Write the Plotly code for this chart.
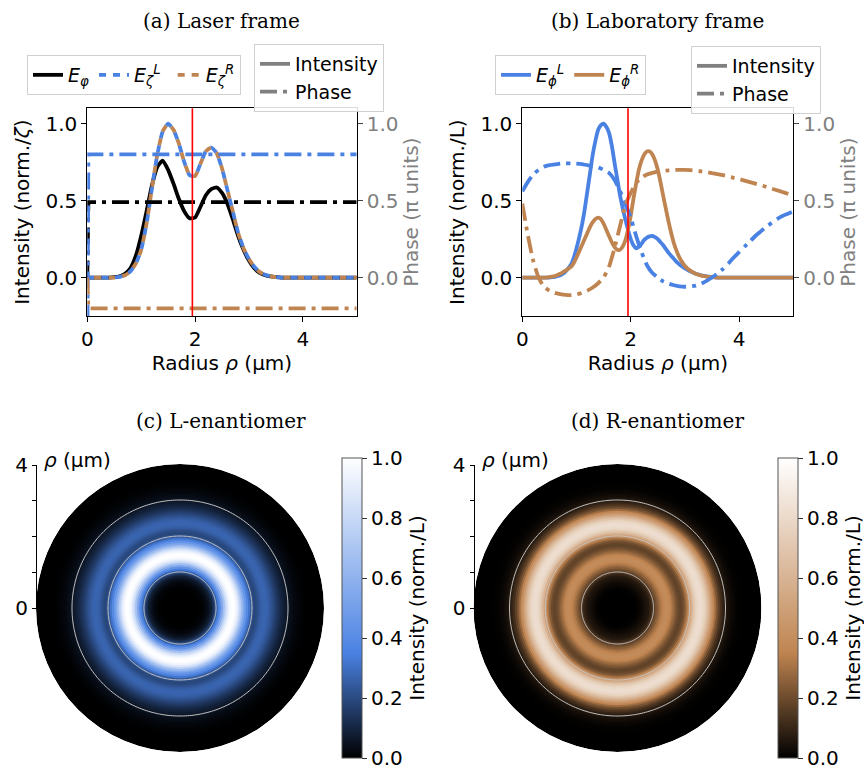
import numpy as np
import plotly.graph_objects as go

# ---------------- data ----------------
rho = [0.0, 0.1, 0.2, 0.3, 0.4, 0.5, 0.6, 0.7, 0.8, 0.9,
       1.0, 1.1, 1.2, 1.3, 1.4, 1.5, 1.6, 1.7, 1.8, 1.9,
       2.0, 2.1, 2.2, 2.3, 2.4, 2.5, 2.6, 2.7, 2.8, 2.9,
       3.0, 3.1, 3.2, 3.3, 3.4, 3.5, 3.6, 3.7, 3.8, 3.9,
       4.0, 4.1, 4.2, 4.3, 4.4, 4.5, 4.6, 4.7, 4.8, 4.9, 5.0]

rho_b = [0.00, 0.05, 0.10, 0.15, 0.20, 0.25, 0.30, 0.35, 0.40, 0.45,
         0.50, 0.55, 0.60, 0.65, 0.70, 0.75, 0.80, 0.85, 0.90, 0.95,
         1.00, 1.05, 1.10, 1.15, 1.20, 1.25, 1.30, 1.35, 1.40, 1.45,
         1.50, 1.55, 1.60, 1.65, 1.70, 1.75, 1.80, 1.85, 1.90, 1.95,
         2.00, 2.05, 2.10, 2.15, 2.20, 2.25, 2.30, 2.35, 2.40, 2.45,
         2.50, 2.55, 2.60, 2.65, 2.70, 2.75, 2.80, 2.85, 2.90, 2.95,
         3.00, 3.05, 3.10, 3.15, 3.20, 3.25, 3.30, 3.35, 3.40, 3.45,
         3.50, 3.55, 3.60, 3.65, 3.70, 3.75, 3.80, 3.85, 3.90, 3.95,
         4.00, 4.05, 4.10, 4.15, 4.20, 4.25, 4.30, 4.35, 4.40, 4.45,
         4.50, 4.55, 4.60, 4.65, 4.70, 4.75, 4.80, 4.85, 4.90, 4.95, 5.00]

# (a) laser frame intensities
I_phi_a = [0, 0, 0, 0, 0, 0.002, 0.008, 0.025, 0.06, 0.14,
           0.27, 0.43, 0.60, 0.72, 0.76, 0.70, 0.61, 0.51, 0.43, 0.385,
           0.39, 0.46, 0.535, 0.575, 0.585, 0.55, 0.48, 0.38, 0.27, 0.18,
           0.11, 0.06, 0.03, 0.015, 0.007, 0.003, 0, 0, 0, 0,
           0, 0, 0, 0, 0, 0, 0, 0, 0, 0, 0]
I_zeta_a = [0, 0, 0, 0, 0, 0, 0.005, 0.015, 0.04, 0.09,
            0.18, 0.35, 0.58, 0.80, 0.95, 1.00, 0.96, 0.87, 0.75, 0.665,
            0.66, 0.74, 0.82, 0.845, 0.81, 0.71, 0.57, 0.43, 0.29, 0.19,
            0.12, 0.07, 0.035, 0.018, 0.008, 0.003, 0, 0, 0, 0,
            0, 0, 0, 0, 0, 0, 0, 0, 0, 0, 0]
# (a) laser frame phases (constant after the origin)
rho_phase_a = [0.0, 0.02, 5.0]
P_phi_a = [0.0, 0.49, 0.49]
P_zetaL_a = [-0.5, 0.80, 0.80]
P_zetaR_a = [0.0, -0.20, -0.20]

# (b) laboratory frame intensities (on rho_b)
I_L_b = [0, 0, 0, 0, 0, 0, 0, 0, 0, 0,
         0, 0.002, 0.005, 0.009, 0.015, 0.025, 0.04, 0.06, 0.085, 0.13,
         0.19, 0.26, 0.34, 0.44, 0.56, 0.68, 0.80, 0.89, 0.96, 0.99,
         1.00, 0.98, 0.94, 0.86, 0.75, 0.645, 0.54, 0.455, 0.38, 0.31,
         0.25, 0.21, 0.19, 0.20, 0.22, 0.245, 0.26, 0.268, 0.27, 0.263,
         0.25, 0.23, 0.21, 0.185, 0.16, 0.14, 0.12, 0.10, 0.085, 0.072,
         0.06, 0.05, 0.04, 0.032, 0.025, 0.02, 0.015, 0.011, 0.008, 0.006,
         0.004, 0.002, 0, 0, 0, 0, 0, 0, 0, 0,
         0, 0, 0, 0, 0, 0, 0, 0, 0, 0,
         0, 0, 0, 0, 0, 0, 0, 0, 0, 0, 0]
I_R_b = [0, 0, 0, 0, 0, 0, 0, 0, 0, 0,
         0.003, 0.006, 0.01, 0.017, 0.025, 0.035, 0.045, 0.057, 0.07, 0.095,
         0.13, 0.17, 0.21, 0.25, 0.29, 0.33, 0.36, 0.38, 0.39, 0.38,
         0.35, 0.31, 0.27, 0.23, 0.20, 0.18, 0.18, 0.20, 0.24, 0.31,
         0.40, 0.51, 0.61, 0.70, 0.76, 0.80, 0.82, 0.82, 0.80, 0.76,
         0.70, 0.62, 0.53, 0.445, 0.36, 0.285, 0.22, 0.17, 0.13, 0.10,
         0.075, 0.058, 0.045, 0.034, 0.025, 0.018, 0.012, 0.009, 0.006, 0.004,
         0.002, 0.001, 0, 0, 0, 0, 0, 0, 0, 0,
         0, 0, 0, 0, 0, 0, 0, 0, 0, 0,
         0, 0, 0, 0, 0, 0, 0, 0, 0, 0, 0]
# (b) laboratory frame phases (pi units, on rho)
P_L_b = [0.56, 0.62, 0.67, 0.70, 0.72, 0.73, 0.735, 0.74, 0.742, 0.742,
         0.74, 0.737, 0.73, 0.725, 0.716, 0.70, 0.68, 0.635, 0.565, 0.48,
         0.39, 0.27, 0.165, 0.08, 0.03, 0.0, -0.025, -0.04, -0.05, -0.057,
         -0.06, -0.058, -0.052, -0.04, -0.022, 0.0, 0.025, 0.055, 0.09, 0.13,
         0.165, 0.20, 0.235, 0.27, 0.30, 0.33, 0.355, 0.38, 0.40, 0.415, 0.43]
P_R_b = [0.48, 0.28, 0.11, 0.0, -0.06, -0.085, -0.10, -0.108, -0.113, -0.114,
         -0.11, -0.10, -0.085, -0.065, -0.037, 0.0, 0.07, 0.19, 0.33, 0.47,
         0.55, 0.615, 0.65, 0.67, 0.68, 0.688, 0.693, 0.697, 0.70, 0.70,
         0.70, 0.698, 0.695, 0.69, 0.685, 0.678, 0.672, 0.665, 0.657, 0.648,
         0.64, 0.63, 0.62, 0.61, 0.60, 0.59, 0.578, 0.567, 0.556, 0.545, 0.535]

marker_rho = 1.95          # red reference line
grid_rings = [1, 2, 3]     # rings drawn on the polar maps
disk_max = 4.0             # radius of the polar maps
y_ticks = [0.0, 0.5, 1.0]
cb_tickvals = [0.0, 0.2, 0.4, 0.6, 0.8, 1.0]
cb_ticktext = ['0.0', '0.2', '0.4', '0.6', '0.8', '1.0']
radial_ticks = [0, 1, 2, 3, 4]
radial_ticktext = ['0', '', '', '', '4']

# ---------------- style ----------------
W, H = 864, 769
FONT = 'DejaVu Sans'
SERIF = 'DejaVu Serif'
BLUE = '#4A82E3'
BROWN = '#BF8450'
GRAY = '#808080'
LW = 3.8
DASHDOT = '17px,6px,4px,6px'
DASH_A = '7px,7px'
DASH_B = '0px,7px,7px,0px'


def fx(p):
    return p / W


def fy(p):
    return 1 - p / H


fig = go.Figure()
spl = dict(shape='spline', smoothing=0.5)

# ---- (a) intensities
fig.add_trace(go.Scatter(x=rho, y=I_phi_a, mode='lines', name='<i>E</i><sub><i>φ</i></sub>',
                         line=dict(color='black', width=LW, **spl),
                         legend='legend', legendrank=1, xaxis='x', yaxis='y', hoverinfo='skip'))
fig.add_trace(go.Scatter(x=rho, y=I_zeta_a, mode='lines',
                         name='<i>E</i><sub><i>ζ</i></sub><sup><i>R</i></sup>',
                         line=dict(color=BROWN, width=LW, dash=DASH_B, **spl),
                         legend='legend', legendrank=3, xaxis='x', yaxis='y', hoverinfo='skip'))
fig.add_trace(go.Scatter(x=rho, y=I_zeta_a, mode='lines',
                         name='<i>E</i><sub><i>ζ</i></sub><sup><i>L</i></sup>',
                         line=dict(color=BLUE, width=LW, dash=DASH_A, **spl),
                         legend='legend', legendrank=2, xaxis='x', yaxis='y', hoverinfo='skip'))
# ---- (a) phases
for yy, col in [(P_phi_a, 'black'), (P_zetaL_a, BLUE), (P_zetaR_a, BROWN)]:
    fig.add_trace(go.Scatter(x=rho_phase_a, y=yy, mode='lines', showlegend=False,
                             line=dict(color=col, width=LW, dash=DASHDOT),
                             xaxis='x', yaxis='y2', hoverinfo='skip'))
# ---- style legends
for lg, xa, ya in [('legend2', 'x', 'y'), ('legend4', 'x2', 'y3')]:
    fig.add_trace(go.Scatter(x=[None], y=[None], mode='lines', name='Intensity',
                             line=dict(color=GRAY, width=LW), legend=lg, legendrank=1,
                             xaxis=xa, yaxis=ya))
    fig.add_trace(go.Scatter(x=[None], y=[None], mode='lines', name='Phase',
                             line=dict(color=GRAY, width=LW, dash=DASHDOT), legend=lg, legendrank=2,
                             xaxis=xa, yaxis=ya))

# ---- (b) intensities
fig.add_trace(go.Scatter(x=rho_b, y=I_L_b, mode='lines', name='<i>E</i><sub><i>ϕ</i></sub><sup><i>L</i></sup>',
                         line=dict(color=BLUE, width=LW, **spl), legend='legend3', legendrank=1,
                         xaxis='x2', yaxis='y3', hoverinfo='skip'))
fig.add_trace(go.Scatter(x=rho_b, y=I_R_b, mode='lines', name='<i>E</i><sub><i>ϕ</i></sub><sup><i>R</i></sup>',
                         line=dict(color=BROWN, width=LW, **spl), legend='legend3', legendrank=2,
                         xaxis='x2', yaxis='y3', hoverinfo='skip'))
# ---- (b) phases
fig.add_trace(go.Scatter(x=rho, y=P_L_b, mode='lines', showlegend=False,
                         line=dict(color=BLUE, width=LW, dash=DASHDOT, **spl),
                         xaxis='x2', yaxis='y4', hoverinfo='skip'))
fig.add_trace(go.Scatter(x=rho, y=P_R_b, mode='lines', showlegend=False,
                         line=dict(color=BROWN, width=LW, dash=DASHDOT, **spl),
                         xaxis='x2', yaxis='y4', hoverinfo='skip'))

# ---- (c), (d) polar maps built as stacked full-circle bars (largest first)
theta_circle = np.linspace(0, 360, 361)
cs_L = [[0, '#000000'], [0.35, BLUE], [1, '#FFFFFF']]
cs_R = [[0, '#000000'], [0.35, BROWN], [1, '#FFFFFF']]
panels = [('polar', I_L_b, cs_L, 342), ('polar2', I_R_b, cs_R, 778)]
for sub, prof, cs, cbx in panels:
    pairs = [(r, v) for r, v in zip(rho_b, prof) if r <= disk_max]
    pairs.sort(key=lambda t: -t[0])
    rr = [p[0] for p in pairs]
    vv = [p[1] for p in pairs]
    fig.add_trace(go.Barpolar(
        r=rr, theta=[0] * len(rr), width=[360] * len(rr), base=0,
        marker=dict(color=vv, colorscale=cs, cmin=0, cmax=1, line=dict(width=0),
                    colorbar=dict(x=fx(cbx), xanchor='left', xpad=0, y=fy(608), yanchor='middle',
                                  ypad=0, len=300 / H, lenmode='fraction', thickness=20,
                                  thicknessmode='pixels', outlinewidth=1, outlinecolor='#555',
                                  ticks='outside', ticklen=5, tickcolor='#333',
                                  tickmode='array', tickvals=cb_tickvals, ticktext=cb_ticktext,
                                  ticklabeloverflow='allow',
                                  tickfont=dict(size=20, family=FONT, color='black'),
                                  title=dict(text='Intensity (norm./L)', side='right',
                                             font=dict(size=20, family=FONT, color='black')))),
        subplot=sub, showlegend=False, hoverinfo='skip'))
    for ring in grid_rings:
        fig.add_trace(go.Scatterpolar(r=[ring] * len(theta_circle), theta=theta_circle, mode='lines',
                                      line=dict(color='#c4c4c4', width=1), subplot=sub,
                                      showlegend=False, hoverinfo='skip'))

# radial rulers for (c),(d)
fig.add_trace(go.Scatter(x=[None], y=[None], xaxis='x3', yaxis='y5', showlegend=False, hoverinfo='skip'))
fig.add_trace(go.Scatter(x=[None], y=[None], xaxis='x4', yaxis='y6', showlegend=False, hoverinfo='skip'))

# ---------------- layout ----------------
axfont = dict(family=FONT, size=20, color='black')
common_x = dict(range=[0, 5], showline=True, mirror=True, linecolor='black', linewidth=1,
                ticks='outside', ticklen=5, tickcolor='black', tickvals=[0, 2, 4],
                showgrid=False, zeroline=False, tickfont=axfont,
                title=dict(text='Radius <i>ρ</i> (µm)', font=axfont, standoff=4))
common_yl = dict(range=[-0.25, 1.10], showline=True, linecolor='black', linewidth=1,
                 ticks='outside', ticklen=5, tickcolor='black', tickvals=y_ticks, tickformat='.1f',
                 showgrid=False, zeroline=False, tickfont=axfont)
common_yr = dict(range=[-0.25, 1.10], showline=True, linecolor='black', linewidth=1, side='right',
                 ticks='outside', ticklen=5, tickcolor='#444', tickvals=y_ticks, tickformat='.1f',
                 showgrid=False, zeroline=False, tickfont=dict(family=FONT, size=20, color=GRAY),
                 title=dict(text='Phase (π units)', font=dict(family=FONT, size=20, color=GRAY), standoff=6))
ydom = [fy(316), fy(108.3)]

ruler = dict(range=[0, 4], anchor='free', side='left', showline=True, linecolor='black', linewidth=1,
             ticks='outside', ticklen=4, tickcolor='black', tickvals=radial_ticks, ticktext=radial_ticktext,
             showgrid=False, zeroline=False, tickfont=axfont, domain=[fy(608), fy(465)])

leg_common = dict(bgcolor='rgba(255,255,255,0.85)', bordercolor='#d0d0d0', borderwidth=1,
                  font=dict(family=FONT, size=19, color='black'), xanchor='left', yanchor='top',
                  itemwidth=30, tracegroupgap=0)

fig.update_layout(
    width=W, height=H, autosize=False,
    margin=dict(l=0, r=0, t=0, b=0, pad=0, autoexpand=False),
    template='none', paper_bgcolor='white', plot_bgcolor='rgba(0,0,0,0)',
    font=dict(family=FONT, size=20, color='black'),
    xaxis=dict(domain=[fx(87.3), fx(356.7)], anchor='y', **common_x),
    yaxis=dict(domain=ydom, anchor='x',
               title=dict(text='Intensity (norm./<i>ζ</i>)', font=axfont, standoff=10), **common_yl),
    yaxis2=dict(overlaying='y', anchor='x', **common_yr),
    xaxis2=dict(domain=[fx(522.3), fx(793.3)], anchor='y3', **common_x),
    yaxis3=dict(domain=ydom, anchor='x2',
                title=dict(text='Intensity (norm./L)', font=axfont, standoff=10), **common_yl),
    yaxis4=dict(overlaying='y3', anchor='x2', **common_yr),
    xaxis3=dict(domain=[fx(36), fx(324)], anchor='y5', visible=False, range=[0, 1]),
    yaxis5=dict(position=fx(36), **ruler),
    xaxis4=dict(domain=[fx(473.5), fx(761.5)], anchor='y6', visible=False, range=[0, 1]),
    yaxis6=dict(position=fx(473.5), **ruler),
    polar=dict(domain=dict(x=[fx(36), fx(324)], y=[fy(752), fy(464)]), bgcolor='rgba(0,0,0,0)',
               radialaxis=dict(visible=False, range=[0, disk_max]), angularaxis=dict(visible=False)),
    polar2=dict(domain=dict(x=[fx(473.5), fx(761.5)], y=[fy(752), fy(464)]), bgcolor='rgba(0,0,0,0)',
                radialaxis=dict(visible=False, range=[0, disk_max]), angularaxis=dict(visible=False)),
    legend=dict(x=fx(27), y=fy(55), orientation='h', **leg_common),
    legend2=dict(x=fx(254), y=fy(44), orientation='v', **leg_common),
    legend3=dict(x=fx(495), y=fy(55), orientation='h', **leg_common),
    legend4=dict(x=fx(691), y=fy(46), orientation='v', **leg_common),
    showlegend=True,
)

# red reference lines
for xr in ['x', 'x2']:
    fig.add_shape(type='line', xref=xr, yref=('y domain' if xr == 'x' else 'y3 domain'),
                  x0=marker_rho, x1=marker_rho, y0=0, y1=1, line=dict(color='red', width=1.6),
                  layer='above')

# titles and ruler labels
tfont = dict(family=SERIF, size=20, color='black')
for txt, xp, yp in [('(a) Laser frame', 222, 21), ('(b) Laboratory frame', 657, 21),
                    ('(c) L-enantiomer', 221, 421), ('(d) R-enantiomer', 657, 421)]:
    fig.add_annotation(text=txt, x=fx(xp), y=fy(yp), xref='paper', yref='paper',
                       xanchor='center', yanchor='middle', showarrow=False, font=tfont)
for xp in [42, 480]:
    fig.add_annotation(text='<i>ρ</i> (µm)', x=fx(xp), y=fy(460), xref='paper', yref='paper',
                       xanchor='left', yanchor='middle', showarrow=False, font=axfont)

fig.write_html('out.html', config=dict(displayModeBar=False))
